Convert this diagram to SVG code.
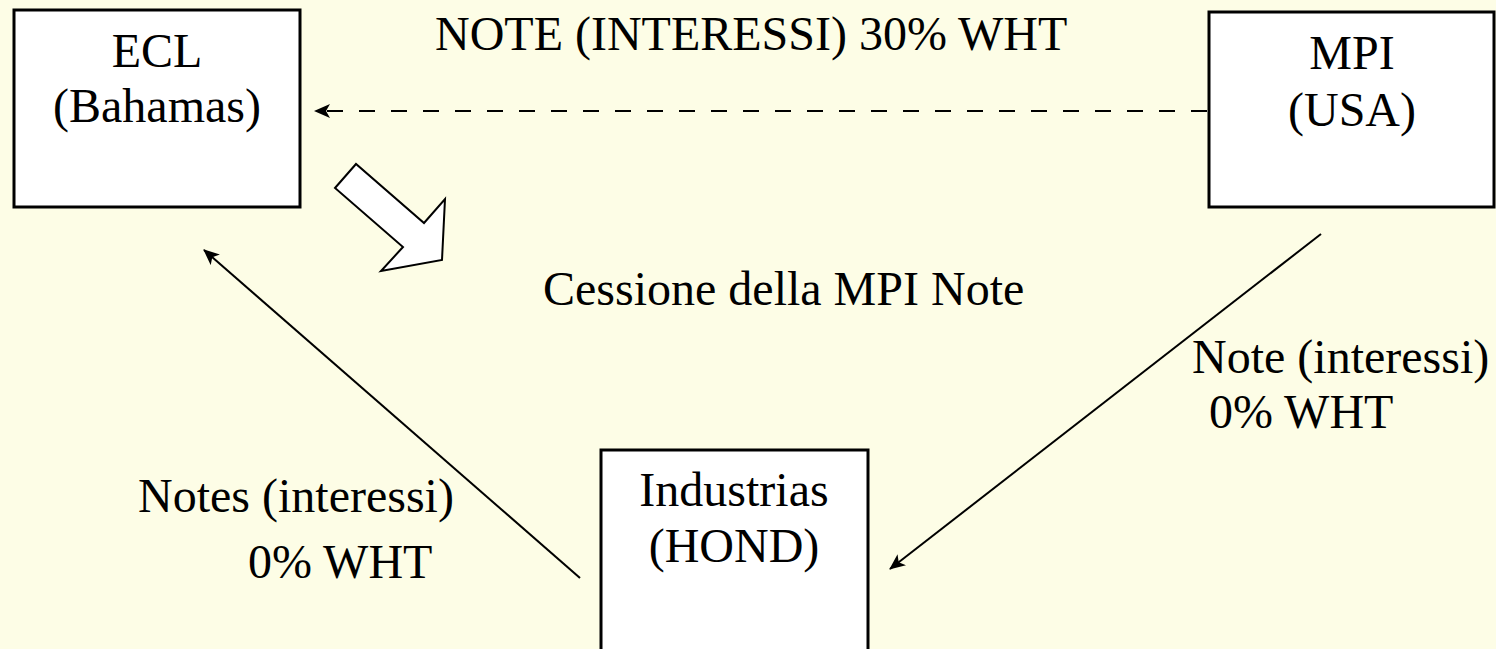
<svg xmlns="http://www.w3.org/2000/svg" width="1496" height="649" viewBox="0 0 1496 649">
<defs>
<style>
.box{fill:#ffffff;stroke:#000000;stroke-width:3}
.t{font-family:"Liberation Serif","Times New Roman",serif;font-size:48px;fill:#000000}
.c{text-anchor:middle}
.ln{stroke:#000000;stroke-width:2;fill:none}
</style>
<marker id="ah" viewBox="0 0 16 14" refX="15" refY="7" markerWidth="16" markerHeight="14" markerUnits="userSpaceOnUse" orient="auto">
<path d="M0,0 L16,7 L0,14 L4,7 Z" fill="#000000"/>
</marker>
</defs>
<rect width="1496" height="649" fill="#FDFDE6"/>
<g id="ecl">
<rect class="box" x="14" y="10" width="286" height="197"/>
<text class="t c" x="157" y="67">ECL</text>
<text class="t c" x="157" y="122">(Bahamas)</text>
</g>
<g id="mpi">
<rect class="box" x="1209" y="12" width="285" height="195"/>
<text class="t c" x="1352" y="69">MPI</text>
<text class="t c" x="1352" y="126">(USA)</text>
</g>
<g id="industrias">
<rect class="box" x="601" y="450" width="267" height="210"/>
<text class="t c" x="734" y="506">Industrias</text>
<text class="t c" x="734" y="562">(HOND)</text>
</g>
<g id="connectors">
<line class="ln" x1="1207" y1="111" x2="315" y2="111" stroke-dasharray="16 16" stroke-width="2.5" marker-end="url(#ah)"/>
<line class="ln" x1="580" y1="578" x2="204" y2="250" marker-end="url(#ah)"/>
<line class="ln" x1="1321" y1="234" x2="890" y2="569" marker-end="url(#ah)"/>
<polygon points="335,188 356,164 424,223 445,199 442,260 381,271 403,247" fill="#ffffff" stroke="#000000" stroke-width="2"/>
</g>
<g id="labels">
<text class="t" x="435" y="50">NOTE (INTERESSI) 30% WHT</text>
<text class="t" x="543" y="305">Cessione della MPI Note</text>
<text class="t" x="1192" y="373">Note (interessi)</text>
<text class="t" x="1209" y="428">0% WHT</text>
<text class="t" x="138" y="512">Notes (interessi)</text>
<text class="t" x="248" y="578">0% WHT</text>
</g>
</svg>
